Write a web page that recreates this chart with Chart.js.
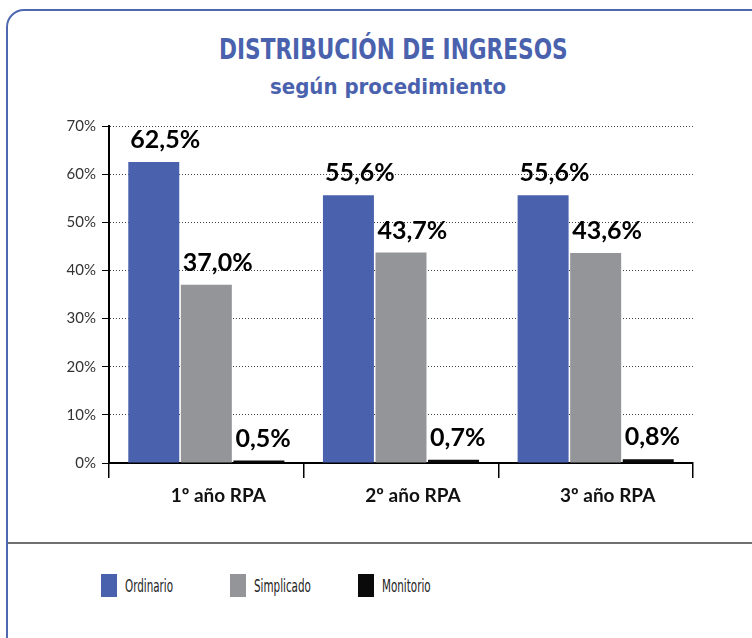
<html>
    <head>
        <meta charset="utf-8">
        <script src="https://cdn.jsdelivr.net/npm/chart.js@4.4.0/dist/chart.umd.min.js"></script>
        <style>
            body { margin: 0; width: 752px; height: 638px; overflow: hidden; background: #fff; position: relative; }
            #frame { position: absolute; left: 6px; top: 9px; width: 800px; height: 700px; border: 2px solid #5068b0; border-radius: 18px; }
            #rule { position: absolute; left: 8px; right: 0; top: 542px; height: 2px; background: #707070; }
            #wrap { position: absolute; left: 34px; top: 0; width: 718px; height: 530px; }
            .head { position: absolute; width: 400px; text-align: center; color: #4a62ae; font-family: "Liberation Sans Narrow", "DejaVu Sans Condensed", sans-serif; font-weight: bold; white-space: nowrap; }
            #title { left: 191px; top: 32px; font-size: 28px; line-height: 36px; transform: scaleX(0.86); }
            #subtitle { left: 188px; top: 73px; font-size: 22px; line-height: 28px; }
            #legend { position: absolute; top: 574px; left: 0; width: 752px; height: 24px; }
            .item { position: absolute; top: 0; height: 23px; }
            .box { position: absolute; left: 0; top: 0; width: 16px; height: 23px; }
            .txt { position: absolute; left: 24px; top: 1px; font: 18px "Liberation Sans Narrow", "DejaVu Sans Condensed", sans-serif; color: #222; white-space: nowrap; line-height: 22px; transform: scaleX(0.64); transform-origin: left center; }
        </style>
    </head>
    <body>
        <div id="frame"></div>
        <div id="rule"></div>
        <div id="title" class="head">DISTRIBUCIÓN DE INGRESOS</div>
        <div id="subtitle" class="head">según procedimiento</div>
        <div id="wrap">
            <canvas id="chart"></canvas>
        </div>
        <div id="legend"></div>
        <script>
            const CATEGORIES = ["1º año RPA", "2º año RPA", "3º año RPA"];
            const SERIES = ["Ordinario", "Simplicado", "Monitorio"];
            const ORDINARIO = [62.5, 55.6, 55.6];
            const SIMPLICADO = [37.0, 43.7, 43.6];
            const MONITORIO = [0.5, 0.7, 0.8];
            const Y_TICKS = [0, 10, 20, 30, 40, 50, 60, 70];

            const COLOURS = ["#4a62ae", "#949598", "#0a0a0a"];
            const LEGEND_LEFT = [101, 230, 358];

            const values = [ORDINARIO, SIMPLICADO, MONITORIO];
            const datasets = SERIES.map((name, i) => ({
                label: name,
                data: values[i],
                backgroundColor: COLOURS[i],
                categoryPercentage: 0.81,
                barPercentage: 0.97
            }));

            // value labels above each bar, left aligned with the bar
            const barLabels = {
                id: "barLabels",
                afterDatasetsDraw(chart) {
                    const ctx = chart.ctx;
                    ctx.save();
                    ctx.font = "bold 25px Lato, sans-serif";
                    ctx.fillStyle = "#000";
                    ctx.textAlign = "left";
                    ctx.textBaseline = "middle";
                    chart.data.datasets.forEach((ds, i) => {
                        chart.getDatasetMeta(i).data.forEach((bar, j) => {
                            const txt = ds.data[j].toFixed(1).replace(".", ",") + "%";
                            ctx.fillText(txt, bar.x - bar.width / 2 + 2, bar.y - 22);
                        });
                    });
                    ctx.restore();
                }
            };

            new Chart(document.getElementById("chart"), {
                type: "bar",
                data: { labels: CATEGORIES, datasets },
                options: {
                    responsive: true,
                    maintainAspectRatio: false,
                    animation: false,
                    layout: { padding: { left: 0, right: 59, top: 126, bottom: 0 } },
                    plugins: {
                        legend: { display: false },
                        tooltip: { enabled: false }
                    },
                    scales: {
                        x: {
                            afterFit: s => { s.height = 67; },
                            grid: {
                                offset: true,
                                drawOnChartArea: false,
                                color: "#000",
                                tickLength: 15,
                                lineWidth: 1.5
                            },
                            border: { color: "#000", width: 2 },
                            ticks: {
                                color: "#111",
                                padding: 6,
                                labelOffset: 12,
                                font: { family: "Lato, sans-serif", size: 19, weight: "bold" }
                            }
                        },
                        y: {
                            min: 0,
                            max: 70,
                            afterFit: s => { s.width = 75; },
                            afterBuildTicks: s => { s.ticks = Y_TICKS.map(v => ({ value: v })); },
                            grid: {
                                color: "#444",
                                lineWidth: 1,
                                tickBorderDash: [],
                                tickColor: "#000",
                                tickLength: 7
                            },
                            border: { color: "#000", width: 2, dash: [1, 2] },
                            ticks: {
                                color: "#333",
                                padding: 6,
                                font: { family: "Lato, sans-serif", size: 15 },
                                callback: v => v + "%"
                            }
                        }
                    }
                },
                plugins: [barLabels]
            });

            // legend under the rule
            const legend = document.getElementById("legend");
            SERIES.forEach((name, i) => {
                const item = document.createElement("div");
                item.className = "item";
                item.style.left = LEGEND_LEFT[i] + "px";
                item.innerHTML = '<div class="box" style="background:' + COLOURS[i] + '"></div><div class="txt">' + name + '</div>';
                legend.appendChild(item);
            });
        </script>
    </body>
</html>
